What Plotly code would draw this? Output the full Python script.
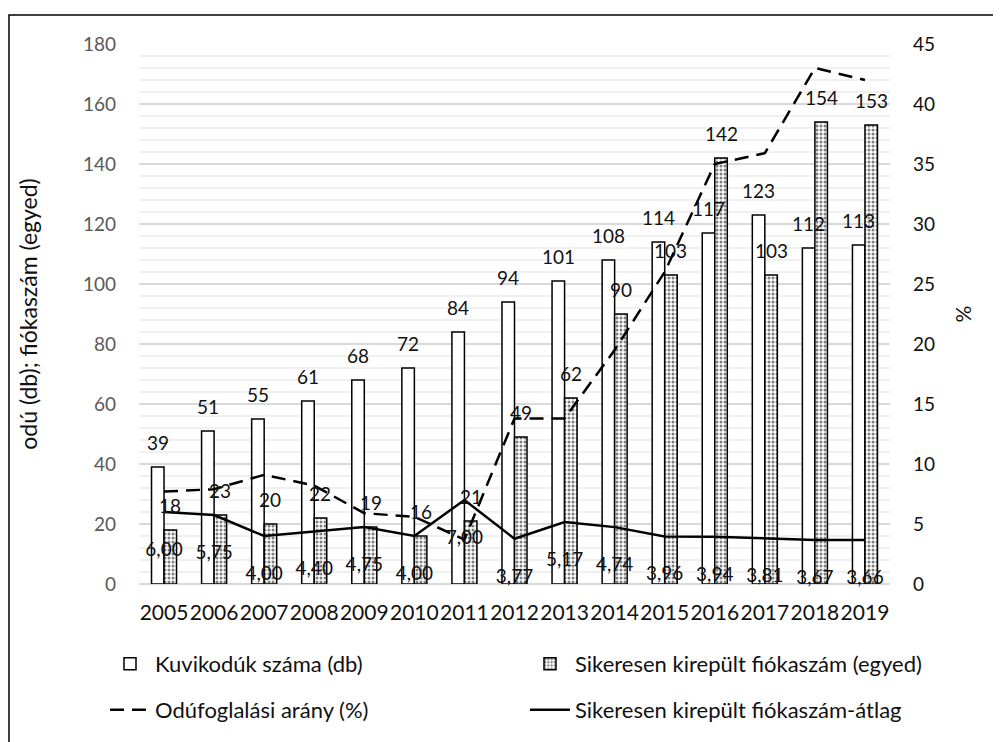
import plotly.graph_objects as go

# --- data ---------------------------------------------------------------
years = [str(y) for y in range(2005, 2020)]
odu_db = [39, 51, 55, 61, 68, 72, 84, 94, 101, 108, 114, 117, 123, 112, 113]
fioka = [18, 23, 20, 22, 19, 16, 21, 49, 62, 90, 103, 142, 103, 154, 153]
foglalasi_arany = [7.7, 7.9, 9.1, 8.2, 5.9, 5.6, 3.7, 13.8, 13.8, 19.5,
                   26.0, 35.0, 35.9, 43.0, 42.0]
fioka_atlag = [6.00, 5.75, 4.00, 4.40, 4.75, 4.00, 7.00, 3.77, 5.17, 4.74,
               3.96, 3.94, 3.81, 3.67, 3.66]

FONT = "Lato, 'Open Sans', sans-serif"
FS = 19
GRID = "#d9d9d9"
MINOR = "#f0f0f0"
TICK = "#595959"

# the page body adds an 8px margin, so the figure is sized/placed for that
OFF = 8
W, H = 1001 - OFF, 742 - OFF
L, R, T, B = 139 - OFF, 890 - OFF, 44 - OFF, 584 - OFF
BARGAP = 0.5


def px_x(p):
    return (p - OFF - L) / (R - L)


def px_y(p):
    return (B - (p - OFF)) / (B - T)


fig = go.Figure()

bar_line = dict(color="black", width=1.5)

fig.add_trace(go.Bar(
    x=years, y=odu_db, name="Kuvikodúk száma (db)",
    marker=dict(color="white", line=bar_line),
    legend="legend",
))
fig.add_trace(go.Bar(
    x=years, y=fioka, name="Sikeresen kirepült fiókaszám (egyed)",
    marker=dict(color="white", line=bar_line,
                pattern=dict(shape=".", size=4, solidity=0.45,
                             fgcolor="black", bgcolor="white")),
    legend="legend",
))
fig.add_trace(go.Scatter(
    x=years, y=foglalasi_arany, name="Odúfoglalási arány (%)",
    mode="lines", yaxis="y2",
    line=dict(color="black", width=2.5, dash="14px,8px"),
    legend="legend2",
))
fig.add_trace(go.Scatter(
    x=years, y=fioka_atlag, name="Sikeresen kirepült fiókaszám-átlag",
    mode="lines+markers+text", yaxis="y2",
    line=dict(color="black", width=2.5),
    marker=dict(size=46, color="rgba(0,0,0,0)"),
    texttemplate="%{y:.2f}", textposition="bottom center",
    textfont=dict(family=FONT, size=FS, color="#111"),
    cliponaxis=False,
    legend="legend2",
))

# bar value labels: Excel draws them on top of everything, a little above
# the bar, so use annotations shifted onto each bar of the pair
# (category axis: annotation x is the category's serial number)
half_bar = (R - L) / len(years) * (1 - BARGAP) / 4
annotations = []
for vals, side in ((odu_db, -1), (fioka, 1)):
    for i, v in enumerate(vals):
        annotations.append(dict(
            x=i, y=v, xref="x", yref="y", text=str(v), showarrow=False,
            xanchor="center", yanchor="bottom",
            xshift=side * half_bar, yshift=11,
            font=dict(family=FONT, size=FS, color="#111"),
        ))

legend_common = dict(
    orientation="h", x=px_x(105), xanchor="left", yanchor="middle",
    entrywidth=365, entrywidthmode="pixels", itemwidth=40,
    font=dict(color="#111", size=22), bgcolor="rgba(0,0,0,0)",
)

fig.update_layout(
    width=W, height=H,
    margin=dict(l=L, r=W - R, t=T, b=H - B, autoexpand=False),
    paper_bgcolor="white", plot_bgcolor="white",
    separators=", ",
    font=dict(family=FONT, size=FS, color=TICK),
    barmode="group", bargap=BARGAP, bargroupgap=0,
    annotations=annotations,
    xaxis=dict(
        type="category", range=[-0.5, len(years) - 0.5],
        showgrid=False, zeroline=False,
        showline=False, ticks="", ticklabelstandoff=14, tickangle=0,
        tickfont=dict(color="#111", size=21),
    ),
    yaxis=dict(
        range=[0, 180], dtick=20, showgrid=True, gridcolor=GRID,
        gridwidth=1.5, zeroline=True, zerolinecolor=GRID, zerolinewidth=1.5,
        minor=dict(dtick=4, showgrid=True, gridcolor=MINOR, gridwidth=1.5),
        ticklabelstandoff=22,
        title=dict(text="odú (db); fiókaszám (egyed)", standoff=38,
                   font=dict(color="#111", size=23)),
    ),
    yaxis2=dict(
        range=[0, 45], dtick=5, overlaying="y", side="right",
        showgrid=False, zeroline=False, ticklabelstandoff=22,
        tickfont=dict(color="#111", size=FS),
        title=dict(text="%", standoff=22, font=dict(color="#111", size=21)),
    ),
    legend=dict(legend_common, y=px_y(664)),
    legend2=dict(legend_common, y=px_y(710)),
    shapes=[dict(
        type="rect", xref="paper", yref="paper", layer="below",
        x0=px_x(9), x1=px_x(1300), y0=px_y(900), y1=px_y(15),
        line=dict(color="black", width=1.5), fillcolor="rgba(0,0,0,0)",
    )],
)

fig.write_html("out.html")
